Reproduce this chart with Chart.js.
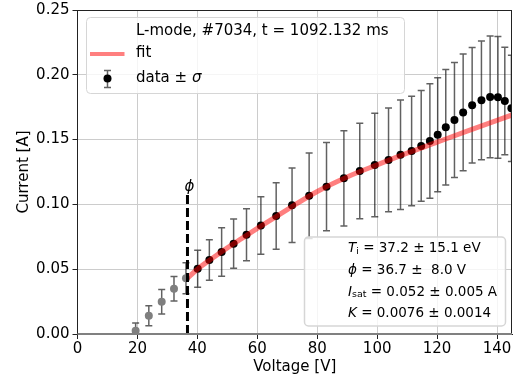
<!DOCTYPE html>
<html>
<head>
<meta charset="utf-8">
<script src="https://cdn.jsdelivr.net/npm/chart.js@4.4.1/dist/chart.umd.min.js"></script>
<style>
  html, body { margin:0; padding:0; background:#fff; }
  #wrap { width:513px; height:382px; }
</style>
</head>
<body>
<div id="wrap"><canvas id="chart" width="513" height="382"></canvas></div>
<script>
// points left of phi, not used in the fit (grey)
const excludedV = [19.4, 23.8, 28.1, 32.2, 36.2];
const excludedI = [0.0025, 0.0141, 0.0249, 0.0349, 0.0430];
const excludedSigma = [0.0060, 0.0077, 0.0095, 0.0094, 0.0120];

// fitted points (black)
const dataV = [40.1, 44.0, 48.1, 52.1, 56.4, 61.2, 66.3, 71.6, 77.3, 83.1, 88.9, 94.2, 99.2, 103.8,
  107.8, 111.5, 114.7, 117.6, 120.2, 122.9, 125.8, 128.7, 131.7, 134.8, 137.7, 140.3, 142.6, 144.8];
const dataI = [0.0504, 0.0571, 0.0633, 0.0697, 0.0766, 0.0837, 0.0910, 0.0993, 0.1067, 0.1137, 0.1201, 0.1258, 0.1304, 0.1343,
  0.1383, 0.1412, 0.1451, 0.1489, 0.1538, 0.1595, 0.1651, 0.1710, 0.1765, 0.1803, 0.1829, 0.1826, 0.1798, 0.1741];
const dataSigma = [0.0143, 0.0156, 0.0187, 0.0190, 0.0200, 0.0222, 0.0257, 0.0287, 0.0330, 0.0340, 0.0367, 0.0368, 0.0400, 0.0400,
  0.0423, 0.0423, 0.0427, 0.0441, 0.0440, 0.0445, 0.0444, 0.0450, 0.0446, 0.0458, 0.0470, 0.0470, 0.0415, 0.0410];

// fit curve
const fitV = [36.7, 40, 45, 50, 55, 60, 70, 80, 90, 100, 110, 120, 130, 145];
const fitI = [0.0430, 0.0500, 0.0585, 0.0665, 0.0740, 0.0815, 0.0960, 0.1100, 0.1212, 0.1305, 0.1395, 0.1480, 0.1565, 0.1690];

const xTicks = [0, 20, 40, 60, 80, 100, 120, 140];
const yTicks = [0, 0.05, 0.10, 0.15, 0.20, 0.25];

const phiV = 36.7;
const phiTop = 0.11;

const legendTitle = 'L-mode, #7034, t = 1092.132 ms';
const fitLabel = 'fit';
const dataLabel = 'data \u00b1 ';

const FONT = "'DejaVu Sans', sans-serif";
const fitColor = 'rgba(255,0,0,0.5)';
const barColor = 'rgba(0,0,0,0.62)';

const toXY = (xs, ys) => xs.map((x, i) => ({ x, y: ys[i] }));

// draws a line made of [text, font, dy] pieces
const drawRich = (ctx, x, y, parts) => {
  parts.forEach(p => {
    ctx.font = p[1];
    ctx.fillText(p[0], x, y + (p[2] || 0));
    x += ctx.measureText(p[0]).width;
  });
};

const errorBars = {
  id: 'errorBars',
  beforeDatasetsDraw(chart){
    const { ctx, chartArea: a, scales: { x, y } } = chart;
    ctx.save();
    ctx.beginPath();
    ctx.rect(a.left, a.top, a.right - a.left, a.bottom - a.top);
    ctx.clip();
    ctx.strokeStyle = barColor;
    ctx.lineWidth = 1.5;
    const draw = (vs, is, ss) => {
      vs.forEach((v, i) => {
        const px = x.getPixelForValue(v);
        const top = y.getPixelForValue(is[i] + ss[i]);
        const bot = y.getPixelForValue(is[i] - ss[i]);
        ctx.beginPath();
        ctx.moveTo(px, top); ctx.lineTo(px, bot);
        ctx.moveTo(px - 3.5, top); ctx.lineTo(px + 3.5, top);
        ctx.moveTo(px - 3.5, bot); ctx.lineTo(px + 3.5, bot);
        ctx.stroke();
      });
    };
    draw(excludedV, excludedI, excludedSigma);
    draw(dataV, dataI, dataSigma);
    ctx.restore();
  }
};

const extras = {
  id: 'extras',
  afterDatasetsDraw(chart){
    const { ctx, chartArea: a, scales: { x, y } } = chart;
    ctx.save();
    // phi marker
    const px = x.getPixelForValue(phiV);
    ctx.strokeStyle = '#000';
    ctx.lineWidth = 3;
    ctx.setLineDash([9, 4]);
    ctx.beginPath();
    ctx.moveTo(px, y.getPixelForValue(0));
    ctx.lineTo(px, y.getPixelForValue(phiTop));
    ctx.stroke();
    ctx.setLineDash([]);
    ctx.fillStyle = '#000';
    ctx.font = 'italic 15px ' + FONT;
    ctx.textAlign = 'center';
    ctx.textBaseline = 'middle';
    ctx.fillText('\u03d5', px + 2, y.getPixelForValue(phiTop) - 4);

    // top/right spines and the zero line
    ctx.strokeStyle = '#222';
    ctx.lineWidth = 1;
    ctx.beginPath();
    ctx.moveTo(a.left, a.top + 0.5); ctx.lineTo(a.right, a.top + 0.5);
    ctx.moveTo(a.right - 0.5, a.top); ctx.lineTo(a.right - 0.5, a.bottom);
    ctx.stroke();
    ctx.strokeStyle = '#808080';
    ctx.lineWidth = 2;
    ctx.beginPath();
    ctx.moveTo(a.left, a.bottom); ctx.lineTo(a.right, a.bottom);
    ctx.stroke();
    ctx.restore();
  },
  afterDraw(chart){
    const { ctx } = chart;
    ctx.save();
    // legend box
    ctx.fillStyle = 'rgba(255,255,255,0.8)';
    ctx.strokeStyle = '#d6d6d6';
    ctx.lineWidth = 1;
    ctx.beginPath();
    ctx.roundRect(86.5, 17.5, 318, 76, 4);
    ctx.fill(); ctx.stroke();
    ctx.fillStyle = '#000';
    ctx.textAlign = 'left';
    ctx.textBaseline = 'middle';
    ctx.font = '15px ' + FONT;
    ctx.fillText(legendTitle, 136, 31);
    ctx.fillText(fitLabel, 136, 53.5);
    drawRich(ctx, 136, 78.5, [[dataLabel, '15px ' + FONT], ['\u03c3', 'italic 15px ' + FONT]]);
    ctx.strokeStyle = fitColor;
    ctx.lineWidth = 4;
    ctx.beginPath();
    ctx.moveTo(90, 54); ctx.lineTo(124.5, 54);
    ctx.stroke();
    ctx.strokeStyle = barColor;
    ctx.lineWidth = 1.5;
    ctx.beginPath();
    ctx.moveTo(107.5, 70.5); ctx.lineTo(107.5, 87.5);
    ctx.moveTo(104, 70.5); ctx.lineTo(111, 70.5);
    ctx.moveTo(104, 87.5); ctx.lineTo(111, 87.5);
    ctx.stroke();
    ctx.fillStyle = '#000';
    ctx.beginPath();
    ctx.arc(107.5, 78.5, 4, 0, Math.PI * 2);
    ctx.fill();

    // fit parameter box
    ctx.fillStyle = 'rgba(255,255,255,0.8)';
    ctx.strokeStyle = '#d6d6d6';
    ctx.beginPath();
    ctx.roundRect(304.5, 237, 201, 89, 4);
    ctx.fill(); ctx.stroke();
    ctx.fillStyle = '#000';
    const f = '13.5px ' + FONT, fi = 'italic 13.5px ' + FONT, fs = '9.5px ' + FONT;
    drawRich(ctx, 348, 248.5, [['T', fi], ['i', fs, 3], [' = 37.2 \u00b1 15.1 eV', f]]);
    drawRich(ctx, 348, 270, [['\u03d5', fi], [' = 36.7 \u00b1  8.0 V', f]]);
    drawRich(ctx, 348, 292, [['I', fi], ['sat', fs, 3], [' = 0.052 \u00b1 0.005 A', f]]);
    drawRich(ctx, 348, 313.5, [['K', fi], [' = 0.0076 \u00b1 0.0014', f]]);
    ctx.restore();
  }
};

new Chart(document.getElementById('chart'), {
  type: 'scatter',
  data: {
    datasets: [
      {
        label: 'fit',
        type: 'line',
        data: toXY(fitV, fitI),
        borderColor: fitColor,
        borderWidth: 5,
        pointRadius: 0,
        cubicInterpolationMode: 'monotone',
        fill: false,
        order: 0
      },
      {
        label: 'data',
        data: toXY(dataV, dataI),
        backgroundColor: '#000',
        borderWidth: 0,
        pointRadius: 4,
        order: 1
      },
      {
        label: 'excluded',
        data: toXY(excludedV, excludedI),
        backgroundColor: '#7f7f7f',
        borderWidth: 0,
        pointRadius: 4,
        order: 2
      }
    ]
  },
  options: {
    responsive: false,
    animation: false,
    devicePixelRatio: 1,
    layout: { autoPadding: false, padding: { left: 0, right: 1, top: 10, bottom: 0 } },
    plugins: { legend: { display: false }, tooltip: { enabled: false } },
    scales: {
      x: {
        type: 'linear',
        min: 0,
        max: 145,
        afterBuildTicks: s => { s.ticks = xTicks.map(v => ({ value: v })); },
        afterFit: s => { s.height = 48; s.paddingLeft = 0; s.paddingRight = 0; },
        ticks: { color: '#000', font: { family: FONT, size: 15 }, padding: 1, maxRotation: 0 },
        grid: { color: '#cccccc', lineWidth: 1, tickColor: '#222', tickLength: 5 },
        border: { color: '#222', width: 1 },
        title: { display: true, text: 'Voltage [V]', color: '#000', font: { family: FONT, size: 15 }, padding: { top: 0, bottom: 6 } }
      },
      y: {
        min: 0,
        max: 0.25,
        afterBuildTicks: s => { s.ticks = yTicks.map(v => ({ value: v })); },
        afterFit: s => { s.width = 77.5; s.paddingTop = 0; s.paddingBottom = 0; },
        ticks: { color: '#000', font: { family: FONT, size: 15 }, padding: 3, callback: v => v.toFixed(2) },
        grid: { color: '#cccccc', lineWidth: 1, tickColor: '#222', tickLength: 5 },
        border: { color: '#222', width: 1 },
        title: { display: true, text: 'Current [A]', color: '#000', font: { family: FONT, size: 15 }, padding: { top: 15, bottom: 0 } }
      }
    }
  },
  plugins: [errorBars, extras]
});
</script>
</body>
</html>
